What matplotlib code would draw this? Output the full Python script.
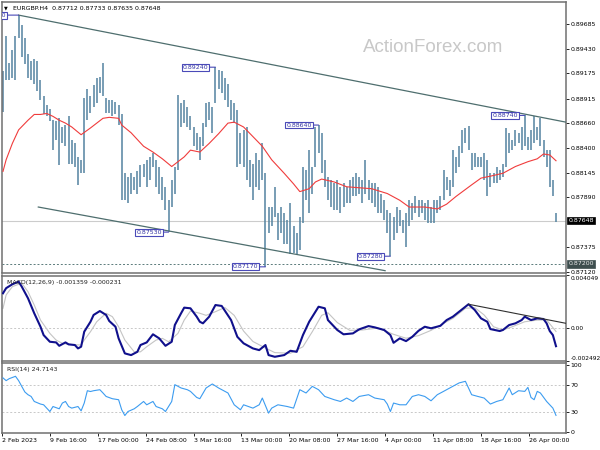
import matplotlib
matplotlib.use('Agg')

import matplotlib.pyplot as plt
import matplotlib.transforms as mtrans

plt.rcParams['font.family'] = 'DejaVu Sans'

# EURGBP H4 bars (one entry per drawn bar)
highs = [0.8920, 0.8956, 0.8928, 0.8942, 0.8956, 0.8978, 0.8968, 0.8954, 0.8938, 0.8930,
         0.8932, 0.8930, 0.8911, 0.8894, 0.8885, 0.8881, 0.8869, 0.8868, 0.8871, 0.8862,
         0.8864, 0.8873, 0.8849, 0.8845, 0.8831, 0.8828, 0.8892, 0.8901, 0.8894, 0.8906,
         0.8913, 0.8914, 0.8928, 0.8892, 0.8890, 0.8890, 0.8888, 0.8885, 0.8875, 0.8814,
         0.8810, 0.8814, 0.8810, 0.8816, 0.8823, 0.8824, 0.8828, 0.8831, 0.8835, 0.8828,
         0.8821, 0.8810, 0.8800, 0.8786, 0.8807, 0.8821, 0.8895, 0.8887, 0.8890, 0.8883,
         0.8873, 0.8862, 0.8856, 0.8852, 0.8866, 0.8887, 0.8888, 0.8883, 0.8924, 0.8921,
         0.8920, 0.8913, 0.8907, 0.8890, 0.8887, 0.8880, 0.8856, 0.8859, 0.8862, 0.8828,
         0.8824, 0.8835, 0.8828, 0.8845, 0.8814, 0.8779, 0.8779, 0.8800, 0.8773, 0.8779,
         0.8773, 0.8766, 0.8783, 0.8759, 0.8752, 0.8769, 0.8821, 0.8817, 0.8838, 0.8821,
         0.8862, 0.8864, 0.8856, 0.8828, 0.8810, 0.8807, 0.8804, 0.8807, 0.8800, 0.8804,
         0.8800, 0.8807, 0.8810, 0.8814, 0.8810, 0.8807, 0.8828, 0.8807, 0.8804, 0.8804,
         0.8800, 0.8793, 0.8786, 0.8776, 0.8773, 0.8769, 0.8779, 0.8776, 0.8766, 0.8773,
         0.8786, 0.8783, 0.8790, 0.8786, 0.8786, 0.8783, 0.8786, 0.8779, 0.8786, 0.8786,
         0.8790, 0.8817, 0.8810, 0.8807, 0.8838, 0.8831, 0.8842, 0.8859, 0.8861, 0.8863,
         0.8835, 0.8835, 0.8831, 0.8831, 0.8835, 0.8828, 0.8814, 0.8814, 0.8821, 0.8817,
         0.8824, 0.8861, 0.8856, 0.8849, 0.8859, 0.8856, 0.8862, 0.8874, 0.8852, 0.8859,
         0.8873, 0.8862, 0.8871, 0.8849, 0.8838, 0.8838, 0.8807, 0.8773]
lows = [0.8878, 0.8911, 0.8911, 0.8913, 0.8911, 0.8954, 0.8935, 0.8927, 0.8913, 0.8911,
        0.8907, 0.8899, 0.8890, 0.8875, 0.8873, 0.8868, 0.8838, 0.8849, 0.8823, 0.8845,
        0.8842, 0.8824, 0.8824, 0.8821, 0.8802, 0.8814, 0.8814, 0.8869, 0.8876, 0.8883,
        0.8887, 0.8897, 0.8894, 0.8876, 0.8876, 0.8873, 0.8875, 0.8864, 0.8786, 0.8786,
        0.8783, 0.8793, 0.8797, 0.8793, 0.8800, 0.8810, 0.8800, 0.8807, 0.8821, 0.8800,
        0.8793, 0.8786, 0.8776, 0.8753, 0.8779, 0.8793, 0.8817, 0.8862, 0.8866, 0.8862,
        0.8859, 0.8842, 0.8838, 0.8828, 0.8842, 0.8862, 0.8869, 0.8856, 0.8887, 0.8901,
        0.8897, 0.8890, 0.8883, 0.8869, 0.8866, 0.8821, 0.8824, 0.8821, 0.8807, 0.8800,
        0.8786, 0.8800, 0.8797, 0.8807, 0.8717, 0.8752, 0.8759, 0.8769, 0.8745, 0.8752,
        0.8741, 0.8741, 0.8730, 0.8731, 0.8729, 0.8734, 0.8762, 0.8786, 0.8773, 0.8793,
        0.8821, 0.8835, 0.8814, 0.8800, 0.8786, 0.8779, 0.8776, 0.8776, 0.8773, 0.8779,
        0.8783, 0.8783, 0.8790, 0.8790, 0.8793, 0.8783, 0.8793, 0.8786, 0.8783, 0.8779,
        0.8773, 0.8773, 0.8766, 0.8752, 0.8728, 0.8745, 0.8752, 0.8759, 0.8752, 0.8738,
        0.8759, 0.8766, 0.8773, 0.8769, 0.8773, 0.8766, 0.8762, 0.8762, 0.8762, 0.8773,
        0.8776, 0.8786, 0.8797, 0.8790, 0.8800, 0.8814, 0.8821, 0.8835, 0.8845, 0.8838,
        0.8817, 0.8821, 0.8821, 0.8821, 0.8807, 0.8790, 0.8800, 0.8804, 0.8804, 0.8807,
        0.8810, 0.8821, 0.8835, 0.8838, 0.8842, 0.8845, 0.8838, 0.8842, 0.8838, 0.8838,
        0.8845, 0.8849, 0.8842, 0.8831, 0.8821, 0.8800, 0.8790, 0.8764]

last_close = 0.87648
support_level = 0.87200

# moving average (red)
ma_idx = [0, 1, 3, 5, 8, 10, 12, 14, 16, 18, 20, 22, 25, 28, 30, 32, 34, 37, 38, 41, 43, 45,
          48, 51, 54, 58, 60, 63, 66, 69, 72, 74, 77, 80, 83, 86, 90, 93, 95, 98, 100, 102,
          106, 110, 114, 118, 123, 127, 130, 135, 139, 142, 145, 150, 153, 156, 160, 164,
          168, 171, 173, 175, 177]
ma_val = [0.8816, 0.8828, 0.8845, 0.8859, 0.8869, 0.8875, 0.8875, 0.8876, 0.8873, 0.8869,
          0.8866, 0.8862, 0.8854, 0.8861, 0.8866, 0.8871, 0.8872, 0.8871, 0.8864, 0.8856,
          0.8849, 0.8842, 0.8836, 0.8829, 0.8821, 0.8831, 0.8838, 0.8836, 0.8845, 0.8855,
          0.8866, 0.8867, 0.8862, 0.8852, 0.8842, 0.8828, 0.8814, 0.8803, 0.8795, 0.8798,
          0.8805, 0.8808, 0.8805, 0.8800, 0.8799, 0.8798, 0.8793, 0.8786, 0.8779, 0.8779,
          0.8777, 0.8782, 0.8790, 0.8802, 0.8809, 0.8811, 0.8814, 0.8821, 0.8826, 0.8829,
          0.8834, 0.8833, 0.8827]

# channel lines
upper_idx = [5, 180.2]
upper_px = [0.8978, 0.8867]
lower_idx = [11.3, 122.3]
lower_px = [0.8779, 0.8713]

# swing labels
swing_idx = [5, 53, 68, 84, 101, 124, 167]
swing_px = [0.89780, 0.87530, 0.89240, 0.87170, 0.88640, 0.87280, 0.88740]
swing_gap = [-9, -5, -5, -5, -5, -5, -5]   # label offset, points

# MACD(12,26,9)
macd_idx = [0, 1, 3, 5, 6, 8, 10, 12, 13, 15, 17, 18, 20, 21, 23, 24, 25, 26, 28, 29, 31, 33,
            34, 36, 37, 39, 41, 43, 44, 46, 48, 50, 52, 54, 55, 57, 58, 60, 62, 63, 64, 66,
            68, 70, 73, 75, 77, 80, 82, 84, 85, 87, 90, 92, 94, 96, 98, 101, 103, 104, 107,
            109, 112, 114, 117, 119, 122, 124, 125, 127, 129, 131, 133, 135, 137, 140, 142,
            144, 146, 149, 151, 153, 155, 156, 159, 160, 162, 164, 166, 167, 169, 171, 173,
            174, 175, 176, 177]
macd_val = [0.00269, 0.00308, 0.00338, 0.00358, 0.00320, 0.00231, 0.00116, 0.00013, -0.00051,
            -0.00102, -0.00107, -0.00133, -0.00107, -0.00122, -0.00127, -0.00153, -0.00140,
            -0.00025, 0.00051, 0.00103, 0.00133, 0.00103, 0.00057, 0.00013, -0.00076, -0.00191,
            -0.00204, -0.00179, -0.00127, -0.00107, -0.00045, -0.00076, -0.00133, -0.00102,
            0.00026, 0.00116, 0.00159, 0.00154, 0.00090, 0.00051, 0.00039, 0.00090, 0.00179,
            0.00172, 0.00064, -0.00064, -0.00114, -0.00153, -0.00166, -0.00127, -0.00204,
            -0.00217, -0.00204, -0.00171, -0.00179, -0.00051, 0.00051, 0.00166, 0.00154,
            0.00064, -0.00012, -0.00045, -0.00038, -0.00007, 0.00018, 0.00008, -0.00012,
            -0.00051, -0.00110, -0.00076, -0.00097, -0.00064, -0.00018, 0.00013, 0.00001,
            0.00020, 0.00064, 0.00090, 0.00128, 0.00185, 0.00141, 0.00077, 0.00051, -0.00005,
            -0.00020, -0.00012, 0.00026, 0.00039, 0.00064, 0.00090, 0.00064, 0.00077, 0.00072,
            0.00039, -0.00020, -0.00051, -0.00136]
signal_idx = [0, 1, 3, 6, 8, 10, 12, 15, 17, 19, 21, 25, 26, 28, 30, 33, 35, 37, 39, 42, 44,
              46, 49, 51, 53, 56, 58, 60, 63, 65, 68, 71, 74, 77, 80, 84, 87, 92, 96, 99, 102,
              104, 107, 111, 115, 120, 125, 129, 133, 137, 140, 144, 148, 151, 154, 157, 160,
              163, 167, 171, 174, 177]
signal_val = [0.00154, 0.00256, 0.00320, 0.00346, 0.00281, 0.00179, 0.00064, -0.00038,
              -0.00089, -0.00114, -0.00122, -0.00127, -0.00089, -0.00025, 0.00051, 0.00116,
              0.00090, 0.00013, -0.00089, -0.00179, -0.00179, -0.00140, -0.00089, -0.00076,
              -0.00102, -0.00038, 0.00064, 0.00133, 0.00116, 0.00100, 0.00128, 0.00160,
              0.00100, -0.00020, -0.00100, -0.00150, -0.00185, -0.00190, -0.00140, -0.00025,
              0.00100, 0.00120, 0.00045, -0.00015, -0.00012, 0.00003, -0.00045, -0.00075,
              -0.00055, -0.00015, 0.00026, 0.00077, 0.00154, 0.00159, 0.00103, 0.00013,
              -0.00012, 0.00013, 0.00051, 0.00064, 0.00064, -0.00023]
macd_tl_idx = [149, 180.2]
macd_tl_val = [0.00185, 0.00039]

# RSI(14)
rsi_idx = [0, 1, 2, 4, 5, 6, 7, 8, 9, 10, 12, 13, 15, 16, 18, 19, 20, 21, 22, 24, 25, 26, 27,
           28, 29, 31, 32, 33, 35, 37, 38, 39, 40, 42, 43, 45, 46, 48, 49, 51, 52, 54, 55, 57,
           59, 60, 62, 63, 65, 67, 69, 72, 74, 76, 77, 80, 82, 83, 85, 86, 88, 91, 93, 95, 97,
           99, 101, 103, 106, 108, 110, 112, 114, 117, 119, 122, 123, 124, 125, 127, 129, 131,
           133, 135, 137, 139, 141, 143, 146, 148, 150, 152, 154, 156, 158, 160, 162, 163,
           165, 167, 168, 169, 170, 171, 172, 174, 175, 176, 177]
rsi_val = [80.9, 76.8, 79.8, 83.3, 76.8, 68.2, 59.8, 55.7, 53.1, 45.6, 41.7, 40.6, 30.5, 38.0,
           34.6, 43.2, 45.6, 38.0, 35.6, 38.0, 31.5, 43.2, 61.7, 60.5, 61.7, 63.2, 58.3, 53.1,
           49.7, 48.2, 33.1, 24.5, 30.5, 34.6, 38.0, 45.6, 40.6, 45.6, 38.0, 34.6, 30.5, 45.6,
           70.8, 65.8, 63.2, 60.7, 51.6, 49.7, 65.8, 71.8, 65.8, 58.3, 40.6, 33.1, 40.6, 35.6,
           40.6, 50.7, 28.1, 35.6, 40.6, 38.0, 35.6, 63.2, 58.3, 68.2, 63.2, 53.1, 48.2, 45.6,
           50.7, 45.6, 53.1, 55.7, 50.7, 48.2, 41.7, 30.5, 43.2, 40.6, 40.6, 53.1, 55.7, 53.1,
           46.6, 55.7, 60.7, 65.8, 73.4, 75.8, 55.7, 53.1, 50.7, 41.7, 45.6, 48.2, 65.8, 55.7,
           61.7, 60.7, 66.7, 51.6, 48.2, 60.7, 58.3, 45.6, 40.6, 35.6, 24.7]

price_ticks = [0.89685, 0.89430, 0.89175, 0.88915, 0.88660, 0.88400, 0.88145, 0.87890,
               0.87375, 0.87120]
date_ticks = [-0.3, 15.0, 30.3, 45.7, 61.0, 76.3, 91.7, 107.0, 122.3, 137.7, 153.0, 168.3]
date_labels = ['2 Feb 2023', '9 Feb 16:00', '17 Feb 00:00', '24 Feb 08:00', '3 Mar 16:00',
               '13 Mar 00:00', '20 Mar 08:00', '27 Mar 16:00', '4 Apr 00:00', '11 Apr 08:00',
               '18 Apr 16:00', '26 Apr 00:00']

W, H = 600, 450
fig = plt.figure(figsize=(6, 4.5), dpi=100)
fs = 4.5
frame = '#707070'


def panel(top, bottom):
    a = fig.add_axes([2 / W, 1 - bottom / H, 564 / W, (bottom - top) / H])
    a.set_xlim(-0.32, 180.2)
    for s in a.spines.values():
        s.set_color(frame)
        s.set_linewidth(1.1)
    a.yaxis.tick_right()
    a.tick_params(axis='y', labelsize=fs, length=2.2, width=0.6, pad=1.0)
    a.tick_params(axis='x', bottom=False, labelbottom=False)
    return a


ax = panel(2, 273)
ax_m = panel(275.5, 361)
ax_r = panel(362.5, 433)

# ---- price panel
idx = list(range(len(highs)))
ax.set_ylim(0.87106, 0.89916)
ax.vlines(idx, lows, highs, color='#5383a0', lw=1.1, zorder=2)
ax.plot(ma_idx, ma_val, color='#f03c3c', lw=0.8, zorder=3)
ax.plot(upper_idx, upper_px, color='#4e6e6e', lw=0.9, zorder=3)
ax.plot(lower_idx, lower_px, color='#4e6e6e', lw=0.9, zorder=3)
ax.axhline(last_close, color='#cccccc', lw=0.8, zorder=1)
ax.axhline(support_level, color='#5b7b7b', lw=0.7, ls=(0, (2, 2)), zorder=1)
ax.set_yticks(price_ticks)
ax.set_yticklabels(['%.5f' % p for p in price_ticks])

for i, p, dx in zip(swing_idx, swing_px, swing_gap):
    ax.annotate('%.5f' % p, xy=(i, p), xytext=(dx, 0), textcoords='offset points',
                ha='right', va='center', fontsize=fs, color='#3434a4', zorder=6,
                clip_on=True,
                bbox=dict(boxstyle='square,pad=0.15', fc='white', ec='#4a4ab8', lw=0.8),
                arrowprops=dict(arrowstyle='-', color='#4a4ab8', lw=0.8,
                                shrinkA=0, shrinkB=0))

trans = mtrans.blended_transform_factory(ax.transAxes, ax.transData)
ax.text(1.004, last_close, '%.5f' % last_close, transform=trans, fontsize=fs,
        color='white', va='center', ha='left', zorder=7, clip_on=False,
        bbox=dict(boxstyle='square,pad=0.2', fc='black', ec='black', lw=0.5))
ax.text(1.004, support_level, '%.5f' % support_level, transform=trans, fontsize=fs,
        color='#e8e8e8', va='center', ha='left', zorder=7, clip_on=False,
        bbox=dict(boxstyle='square,pad=0.2', fc='#3e4e4e', ec='#3e4e4e', lw=0.5))

fig.text(433 / W, 1 - 48 / H, 'ActionForex.com', fontsize=13.5, color='#c8c8c8',
         ha='center', va='center', family='Liberation Sans')
fig.text(4 / W, 1 - 8 / H, '\u25bc', fontsize=3.5, color='black', ha='left', va='center')
fig.text(13 / W, 1 - 8 / H, 'EURGBP.H4  0.87712 0.87733 0.87635 0.87648', fontsize=fs,
         color='black', ha='left', va='center')

# ---- MACD panel
ax_m.set_ylim(-0.002492, 0.004049)
ax_m.axhline(0, color='#c8c8c8', lw=0.7, ls=(0, (2, 2)), zorder=1)
ax_m.plot(signal_idx, signal_val, color='#c4c4c4', lw=0.8, zorder=2)
ax_m.plot(macd_idx, macd_val, color='#10108c', lw=1.5, zorder=3)
ax_m.plot(macd_tl_idx, macd_tl_val, color='#303030', lw=0.8, zorder=3)
ax_m.set_yticks([0.004049, 0.0, -0.002492])
labs = ax_m.set_yticklabels(['0.004049', '0.00', '-0.002492'])
ax_m.tick_params(axis='y', labelsize=4.2)
labs[0].set_va('top')
labs[2].set_va('bottom')
ax_m.text(5 / 564, 0.92, 'MACD(12,26,9) -0.001359 -0.000231', transform=ax_m.transAxes,
          fontsize=fs, color='#202020', ha='left', va='center', zorder=5)

# ---- RSI panel
ax_r.set_ylim(-1.7, 104)
for lvl in (70, 30):
    ax_r.axhline(lvl, color='#c8c8c8', lw=0.7, ls=(0, (2, 2)), zorder=1)
ax_r.plot(rsi_idx, rsi_val, color='#3c9cf0', lw=0.8, zorder=3)
ax_r.set_yticks([100, 70, 30, 0])
ax_r.set_yticklabels(['100', '70', '30', '0'])
ax_r.text(5 / 564, 0.9, 'RSI(14) 24.7143', transform=ax_r.transAxes,
          fontsize=fs, color='#202020', ha='left', va='center', zorder=5)
ax_r.tick_params(axis='x', bottom=True, labelbottom=True, labelsize=fs, length=2,
                 width=0.6, pad=1.5)
ax_r.set_xticks(date_ticks)
ax_r.set_xticklabels(date_labels, ha='left')

fig.savefig('out.png', dpi=100, facecolor='white')
